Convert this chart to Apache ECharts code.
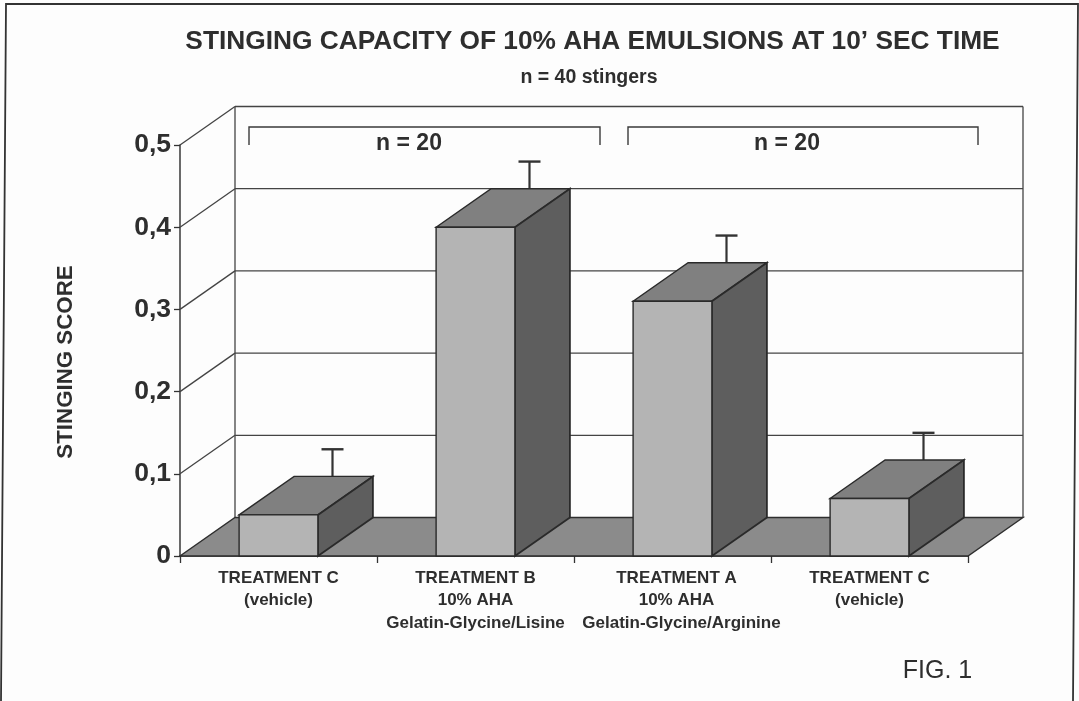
<!DOCTYPE html>
<html>
<head>
<meta charset="utf-8">
<style>html,body{margin:0;padding:0;background:#fdfdfd}#c{width:1079px;height:701px}</style>
<script src="https://cdn.jsdelivr.net/npm/echarts@6/dist/echarts.min.js"></script>
</head>
<body>
<div id="c"></div>
<script>
var categories = [
  'TREATMENT C\n(vehicle)',
  'TREATMENT B\n10% AHA\nGelatin-Glycine/Lisine',
  'TREATMENT A\n10% AHA\nGelatin-Glycine/Arginine',
  'TREATMENT C\n(vehicle)'
];
var scores = [0.05, 0.40, 0.31, 0.07];
var errors = [0.033, 0.033, 0.033, 0.033];
var yTicks = [0, 0.1, 0.2, 0.3, 0.4, 0.5];

var DX = 55, DY = -38.5, BARW = 0.4;
var INK = '#2e2e2e', FONT = '"Liberation Sans", Arial, sans-serif';
var ln = function (x1, y1, x2, y2, w, c) {
  return { type: 'line', shape: { x1: x1, y1: y1, x2: x2, y2: y2 }, style: { stroke: c || '#444', lineWidth: w || 1.3 } };
};
var poly = function (pts, fill, stroke, w) {
  return { type: 'polygon', shape: { points: pts }, style: { fill: fill, stroke: stroke || INK, lineWidth: w === undefined ? 1.2 : w } };
};

function renderWalls(params, api) {
  var p0 = api.coord([0, 0]);
  var size = api.size([1, 0]);
  var left = p0[0] - size[0] / 2, right = left + size[0] * categories.length;
  var yAt = function (v) { return api.coord([0, v])[1]; };
  var kids = [];
  yTicks.forEach(function (t) {
    var y = yAt(t);
    if (t > 0) kids.push(ln(left, y, left + DX, y + DY));
    if (t > 0) kids.push(ln(left + DX, y + DY, right + DX, y + DY));
  });
  var yTop = yAt(0.5), y0 = yAt(0);
  kids.push(ln(left + DX, yTop + DY, left + DX, y0 + DY));
  kids.push(ln(right + DX, yTop + DY, right + DX, y0 + DY));
  kids.push(poly([[left, y0], [right, y0], [right + DX, y0 + DY], [left + DX, y0 + DY]], '#8b8b8b', INK, 1.4));
  return { type: 'group', children: kids };
}

function renderBar(params, api) {
  var i = api.value(0), v = api.value(1), e = api.value(2);
  var base = api.coord([i, 0]), top = api.coord([i, v]);
  var w = api.size([1, 0])[0] * BARW;
  var l = base[0] - w / 2, r = base[0] + w / 2, y0 = base[1], y1 = top[1];
  var errX = base[0] + DX - 1;
  var errTop = api.coord([i, v + e])[1] + DY;
  return {
    type: 'group',
    children: [
      ln(errX, y1 + DY, errX, errTop, 2.2, '#333'),
      ln(errX - 11, errTop, errX + 11, errTop, 2.4, '#333'),
      poly([[l, y1], [r, y1], [r + DX, y1 + DY], [l + DX, y1 + DY]], '#808080', '#2a2a2a', 1.4),
      poly([[r, y0], [r, y1], [r + DX, y1 + DY], [r + DX, y0 + DY]], '#5e5e5e', '#2a2a2a', 1.8),
      poly([[l, y0], [r, y0], [r, y1], [l, y1]], '#b4b4b4', '#2a2a2a', 1.4)
    ]
  };
}

var barData = categories.map(function (c, i) { return [i, scores[i], errors[i]]; });

function bracket(x1, x2) {
  return {
    type: 'polyline', silent: true,
    shape: { points: [[x1, 145], [x1, 127], [x2, 127], [x2, 145]] },
    style: { stroke: '#3a3a3a', lineWidth: 1.4, fill: null }
  };
}
function label(text, x, y, size, weight, align, rot) {
  return {
    type: 'text', x: x, y: y, rotation: rot || 0,
    style: { text: text, fill: INK, font: (weight || 'bold') + ' ' + size + 'px ' + FONT, textAlign: align || 'center', textVerticalAlign: 'middle' }
  };
}
function labelStyle(pad) {
  return { color: INK, fontFamily: FONT, fontWeight: 'bold', fontSize: 17, lineHeight: 22.5, padding: [0, 0, 0, pad] };
}

var chart = echarts.init(document.getElementById('c'), null, { renderer: 'canvas' });
chart.setOption({
  animation: false,
  backgroundColor: '#fdfdfd',
  grid: { left: 180, right: 111, top: 145, bottom: 145, containLabel: false },
  xAxis: {
    type: 'category', data: categories, boundaryGap: true,
    axisLine: { lineStyle: { color: '#333', width: 1.6 } },
    axisTick: { show: true, alignWithLabel: false, length: 7, lineStyle: { color: '#333', width: 1.3 } },
    axisLabel: {
      interval: 0, margin: 11,
      color: INK, fontFamily: FONT, fontWeight: 'bold', fontSize: 17, lineHeight: 22.5,
      formatter: function (v, i) {
        return v.split('\n').map(function (t, k) {
          var tag = i === 2 ? (k === 2 ? 'c' : 'b') : 'a';
          return '{' + tag + '|' + t + '}';
        }).join('\n');
      },
      rich: { a: labelStyle(0), b: labelStyle(8), c: labelStyle(18) }
    }
  },
  yAxis: {
    type: 'value', min: 0, max: 0.5, interval: 0.1,
    splitLine: { show: false },
    axisLine: { show: true, lineStyle: { color: '#444', width: 1.6 } },
    axisTick: { show: true, length: 6, lineStyle: { color: '#333', width: 1.3 } },
    axisLabel: {
      color: INK, fontFamily: FONT, fontWeight: 'bold', fontSize: 26.5, margin: 9,
      formatter: function (v) { return v === 0 ? '0' : v.toFixed(1).replace('.', ','); }
    }
  },
  series: [
    { type: 'custom', coordinateSystem: 'cartesian2d', clip: false, silent: true, z: 1,
      renderItem: renderWalls, data: [[0, 0]], encode: { x: 0, y: 1 } },
    { type: 'custom', coordinateSystem: 'cartesian2d', clip: false, silent: true, z: 2,
      renderItem: renderBar, data: barData, encode: { x: 0, y: 1 } }
  ],
  graphic: [
    { type: 'polyline', silent: true, z: -1, shape: { points: [[1, 701], [6, 4], [1078, 4], [1073, 701]] },
      style: { fill: null, stroke: '#333', lineWidth: 1.8 } },
    label('STINGING CAPACITY OF 10% AHA EMULSIONS AT 10\u2019 SEC TIME', 592.5, 42, 26.3),
    label('n = 40 stingers', 589, 78, 19.5),
    label('STINGING SCORE', 66, 362, 22.3, 'bold', 'center', Math.PI / 2),
    bracket(249, 600),
    bracket(628, 978),
    label('n = 20', 409, 144, 23),
    label('n = 20', 787, 144, 23),
    label('FIG. 1', 937.5, 671, 25, 'normal')
  ]
});
</script>
</body>
</html>
